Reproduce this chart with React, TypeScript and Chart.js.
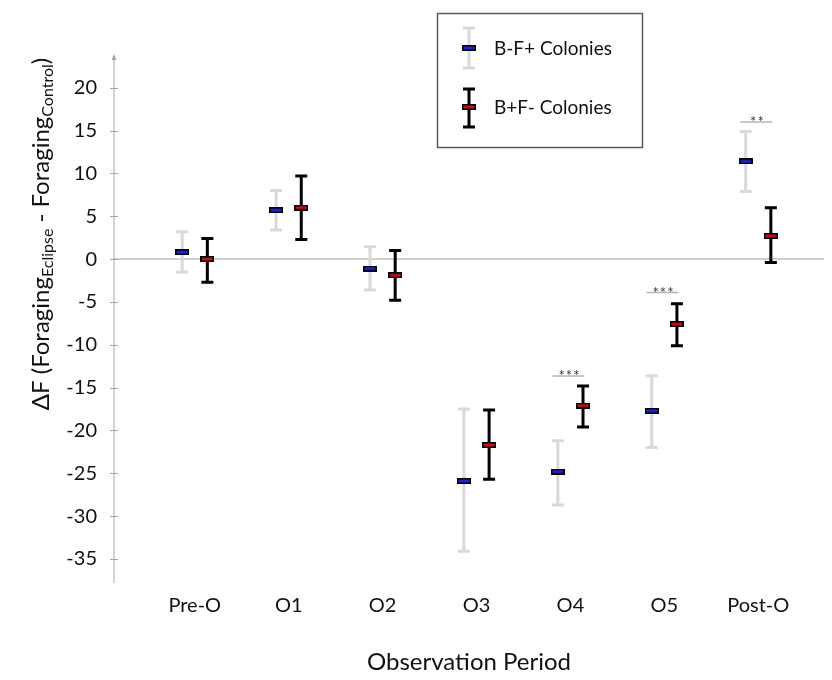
import React, { useEffect, useRef } from "react";
import { Chart, registerables } from "chart.js";
Chart.register(...registerables);

// ---------- data ----------
const categories = ["Pre-O", "O1", "O2", "O3", "O4", "O5", "Post-O"];
const bfMean = [0.8, 5.7, -1.1, -25.9, -24.8, -17.7, 11.4];
const bfLow = [-1.5, 3.4, -3.6, -34.1, -28.7, -22.0, 7.9];
const bfHigh = [3.2, 8.0, 1.45, -17.5, -21.2, -13.6, 14.9];
const fbMean = [0.0, 6.0, -1.9, -21.7, -17.1, -7.6, 2.7];
const fbLow = [-2.7, 2.3, -4.8, -25.7, -19.6, -10.1, -0.4];
const fbHigh = [2.4, 9.7, 1.0, -17.6, -14.8, -5.2, 6.0];
const yTicks = [-35, -30, -25, -20, -15, -10, -5, 0, 5, 10, 15, 20];
const sigCategory = [4, 5, 6];
const sigLevel = [-13.65, -3.9, 16.0];
const sigLabel = ["***", "***", "**"];
const seriesNames = ["B-F+ Colonies", "B+F- Colonies"];

// ---------- styles ----------
const FONT = "Lato, 'Open Sans', sans-serif";
const OFFSET = 0.134;
const GREY_BAR = "#d9d9d9";
const BLACK_BAR = "#000000";
const BLUE = "#2323c8";
const RED = "#c0141c";

function makeMarker(fill: string) {
  const c = document.createElement("canvas");
  c.width = 14;
  c.height = 6;
  const g = c.getContext("2d")!;
  g.fillStyle = "#000";
  g.fillRect(0, 0, 14, 6);
  g.fillStyle = fill;
  g.fillRect(1.5, 1.5, 11, 3);
  return c;
}

function drawErrorBar(ctx: CanvasRenderingContext2D, px: number, top: number, bot: number, color: string) {
  ctx.save();
  ctx.strokeStyle = color;
  ctx.lineWidth = 3;
  ctx.beginPath();
  ctx.moveTo(px, top);
  ctx.lineTo(px, bot);
  ctx.moveTo(px - 6, top);
  ctx.lineTo(px + 6, top);
  ctx.moveTo(px - 6, bot);
  ctx.lineTo(px + 6, bot);
  ctx.stroke();
  ctx.restore();
}

const decorPlugin = {
  id: "decor",
  beforeDatasetsDraw(chart: any) {
    const { ctx, scales, chartArea } = chart;
    const x = scales.x;
    const y = scales.y;
    // zero line
    const y0 = y.getPixelForValue(0);
    ctx.save();
    ctx.strokeStyle = "#d0d0d0";
    ctx.lineWidth = 2;
    ctx.beginPath();
    ctx.moveTo(chartArea.left, y0);
    ctx.lineTo(chartArea.right, y0);
    ctx.stroke();
    // y axis line, arrow & crossing ticks
    ctx.strokeStyle = "#a6a6a6";
    ctx.lineWidth = 1;
    ctx.beginPath();
    ctx.moveTo(chartArea.left, chartArea.top);
    ctx.lineTo(chartArea.left, chartArea.bottom);
    yTicks.forEach((v) => {
      const py = Math.round(y.getPixelForValue(v)) + 0.5;
      ctx.moveTo(chartArea.left - 4, py);
      ctx.lineTo(chartArea.left + 4, py);
    });
    ctx.stroke();
    ctx.fillStyle = "#a6a6a6";
    ctx.beginPath();
    ctx.moveTo(chartArea.left, chartArea.top - 2);
    ctx.lineTo(chartArea.left - 2.5, chartArea.top + 4);
    ctx.lineTo(chartArea.left + 2.5, chartArea.top + 4);
    ctx.closePath();
    ctx.fill();
    ctx.restore();
    // error bars
    chart.data.datasets.forEach((ds: any) => {
      ds.data.forEach((p: any) => {
        drawErrorBar(ctx, x.getPixelForValue(p.x), y.getPixelForValue(p.high), y.getPixelForValue(p.low), ds.errorColor);
      });
    });
  },
  afterDraw(chart: any) {
    const { ctx, scales } = chart;
    const x = scales.x;
    const y = scales.y;
    // significance markers
    sigCategory.forEach((ci, k) => {
      const cx = ci + 1;
      const x1 = x.getPixelForValue(cx - 0.19);
      const x2 = x.getPixelForValue(cx + 0.15);
      const py = y.getPixelForValue(sigLevel[k]);
      ctx.save();
      ctx.strokeStyle = "#b4b4b4";
      ctx.lineWidth = 1.5;
      ctx.beginPath();
      ctx.moveTo(x1, py);
      ctx.lineTo(x2, py);
      ctx.stroke();
      ctx.fillStyle = "#333";
      ctx.font = `15px ${FONT}`;
      (ctx as any).letterSpacing = "1px";
      ctx.textAlign = "center";
      ctx.textBaseline = "alphabetic";
      ctx.fillText(sigLabel[k], (x1 + x2) / 2 + 1, py + 5);
      ctx.restore();
    });

    // legend box
    ctx.save();
    ctx.strokeStyle = "#595959";
    ctx.lineWidth = 1.5;
    ctx.strokeRect(437.5, 13.5, 205, 134);
    const items = [
      { top: 28, bot: 68, mid: 48, color: GREY_BAR, marker: chart.data.datasets[0].pointStyle },
      { top: 89, bot: 127, mid: 107, color: BLACK_BAR, marker: chart.data.datasets[1].pointStyle },
    ];
    items.forEach((it, i) => {
      drawErrorBar(ctx, 469, it.top, it.bot, it.color);
      ctx.drawImage(it.marker, 462, it.mid - 3);
      ctx.fillStyle = "#111";
      ctx.font = `19px ${FONT}`;
      ctx.textAlign = "left";
      ctx.textBaseline = "middle";
      ctx.fillText(seriesNames[i], 494, it.mid + 1);
    });
    ctx.restore();

    // y axis title with subscripts
    ctx.save();
    ctx.translate(41, 234);
    ctx.rotate(-Math.PI / 2);
    ctx.fillStyle = "#111";
    ctx.textBaseline = "alphabetic";
    ctx.textAlign = "left";
    const parts = [
      { t: "\u0394F (Foraging", sub: false },
      { t: "Eclipse", sub: true },
      { t: " - Foraging", sub: false },
      { t: "Control", sub: true },
      { t: ")", sub: false },
    ];
    const big = `24px ${FONT}`;
    const small = `16px ${FONT}`;
    let total = 0;
    parts.forEach((p) => {
      ctx.font = p.sub ? small : big;
      total += ctx.measureText(p.t).width;
    });
    let cx = -total / 2;
    parts.forEach((p) => {
      ctx.font = p.sub ? small : big;
      ctx.fillText(p.t, cx, p.sub ? 12 : 8);
      cx += ctx.measureText(p.t).width;
    });
    ctx.restore();
  },
};

export default function App() {
  const ref = useRef<HTMLCanvasElement>(null);
  useEffect(() => {
    document.body.style.margin = "0";
    const blueMarker = makeMarker(BLUE);
    const redMarker = makeMarker(RED);
    const chart = new Chart(ref.current!, {
      type: "scatter",
      data: {
        datasets: [
          {
            label: seriesNames[0],
            data: categories.map((_, i) => ({ x: i + 1 - OFFSET, y: bfMean[i], low: bfLow[i], high: bfHigh[i] })),
            pointStyle: blueMarker,
            pointRadius: 7,
            errorColor: GREY_BAR,
          } as any,
          {
            label: seriesNames[1],
            data: categories.map((_, i) => ({ x: i + 1 + OFFSET, y: fbMean[i], low: fbLow[i], high: fbHigh[i] })),
            pointStyle: redMarker,
            pointRadius: 7,
            errorColor: BLACK_BAR,
          } as any,
        ],
      },
      options: {
        animation: false,
        responsive: false,
        maintainAspectRatio: false,
        layout: { padding: { top: 56, right: 2, left: 0, bottom: 0 } },
        plugins: { legend: { display: false }, tooltip: { enabled: false } },
        scales: {
          x: {
            type: "linear",
            min: 0.14,
            max: 7.7,
            afterBuildTicks: (s: any) => {
              s.ticks = categories.map((_, i) => ({ value: i + 1 }));
            },
            afterFit: (s: any) => {
              s.height = 97;
            },
            ticks: {
              autoSkip: false,
              maxRotation: 0,
              padding: 11,
              color: "#111",
              font: { family: FONT, size: 20 },
              callback: (v: any) => categories[Math.round(v) - 1] ?? "",
            },
            grid: { display: false, drawTicks: false },
            border: { display: false },
            title: {
              display: true,
              text: "Observation Period",
              color: "#111",
              font: { family: FONT, size: 24 },
              padding: { top: 0, bottom: 3 },
            },
          },
          y: {
            min: -37.8,
            max: 23.7,
            afterBuildTicks: (s: any) => {
              s.ticks = yTicks.map((v) => ({ value: v }));
            },
            afterFit: (s: any) => {
              s.width = 114;
            },
            ticks: {
              padding: 17,
              color: "#111",
              font: { family: FONT, size: 20 },
            },
            grid: { display: false, drawTicks: false },
            border: { display: false },
          },
        },
      } as any,
      plugins: [decorPlugin],
    });
    return () => chart.destroy();
  }, []);
  return (
    <div style={{ width: 832, height: 680 }}>
      <canvas ref={ref} width={832} height={680} style={{ display: "block" }} />
    </div>
  );
}
